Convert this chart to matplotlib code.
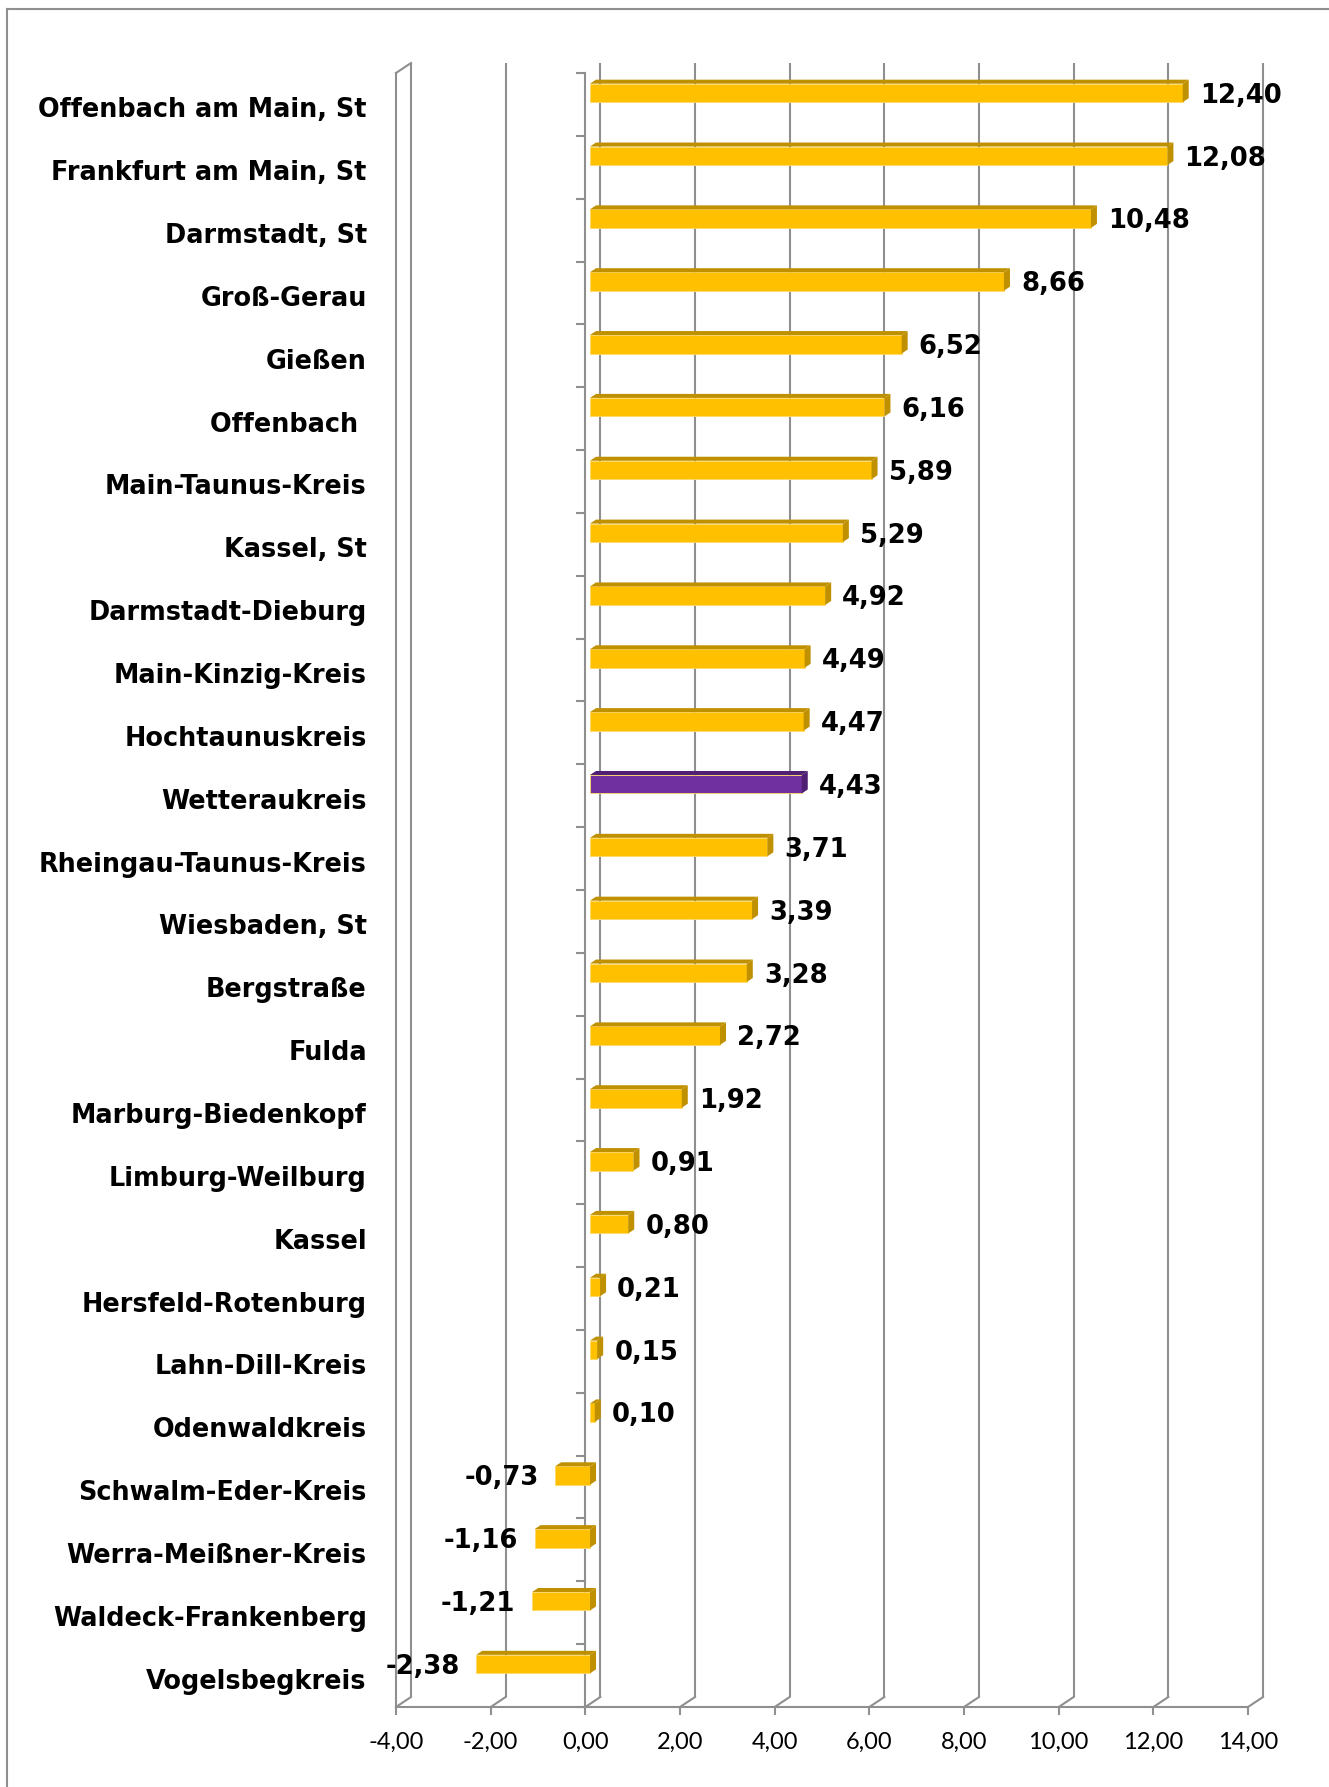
import numpy as np
import matplotlib
matplotlib.use("Agg")
import matplotlib.pyplot as plt
from matplotlib.patches import Polygon
from matplotlib.lines import Line2D
from matplotlib.transforms import ScaledTranslation

# -----------------------------
# Data
# -----------------------------
categories = [
    "Offenbach am Main, St", "Frankfurt am Main, St", "Darmstadt, St", "Groß-Gerau",
    "Gießen", "Offenbach ", "Main-Taunus-Kreis", "Kassel, St", "Darmstadt-Dieburg",
    "Main-Kinzig-Kreis", "Hochtaunuskreis", "Wetteraukreis", "Rheingau-Taunus-Kreis",
    "Wiesbaden, St", "Bergstraße", "Fulda", "Marburg-Biedenkopf", "Limburg-Weilburg",
    "Kassel", "Hersfeld-Rotenburg", "Lahn-Dill-Kreis", "Odenwaldkreis",
    "Schwalm-Eder-Kreis", "Werra-Meißner-Kreis", "Waldeck-Frankenberg", "Vogelsbegkreis",
]
values = [12.40, 12.08, 10.48, 8.66, 6.52, 6.16, 5.89, 5.29, 4.92, 4.49, 4.47, 4.43,
          3.71, 3.39, 3.28, 2.72, 1.92, 0.91, 0.80, 0.21, 0.15, 0.10,
          -0.73, -1.16, -1.21, -2.38]
highlight = "Wetteraukreis"
x_ticks = [-4, -2, 0, 2, 4, 6, 8, 10, 12, 14]

# -----------------------------
# Figure / geometry (pixels at dpi 100)
# -----------------------------
W, H = 1329, 1787
fig = plt.figure(figsize=(W / 100, H / 100), dpi=100)

front_left, front_right = 396, 1248
front_top, front_bottom = 73, 1707
n = len(categories)
ux = (front_right - front_left) / (x_ticks[-1] - x_ticks[0])
uy = (front_bottom - front_top) / n

ax = fig.add_axes([front_left / W, 1 - front_bottom / H,
                   (front_right - front_left) / W, (front_bottom - front_top) / H])
ax.set_xlim(x_ticks[0], x_ticks[-1])
ax.set_ylim(n - 0.5, -0.5)

grid_c = "#8f8f8f"
lw = 1.5
gdx, gdy = 15 / ux, 10 / uy
y_top, y_bot = -0.5, n - 0.5

# back gridlines + floor diagonals
for v in x_ticks:
    ax.plot([v + gdx, v + gdx], [y_top - gdy, y_bot - gdy], color=grid_c, lw=lw,
            clip_on=False, zorder=1, solid_capstyle="butt")
    ax.plot([v, v + gdx], [y_bot, y_bot - gdy], color=grid_c, lw=lw, clip_on=False, zorder=1)
# left wall
ax.plot([x_ticks[0], x_ticks[0] + gdx], [y_top, y_top - gdy], color=grid_c, lw=lw,
        clip_on=False, zorder=1)

# category axis at 0 with ticks
ax.plot([0, 0], [y_top, y_bot], color=grid_c, lw=lw, clip_on=False, zorder=1)
for k in range(n + 1):
    ax.plot([-8 / ux, 0], [k - 0.5, k - 0.5], color=grid_c, lw=lw, clip_on=False, zorder=1)

# spines: bottom = floor front edge, left = wall front edge
for s in ["top", "right"]:
    ax.spines[s].set_visible(False)
for s in ["bottom", "left"]:
    ax.spines[s].set_color(grid_c)
    ax.spines[s].set_linewidth(lw)
ax.patch.set_alpha(0)

ax.set_xticks(x_ticks)
ax.set_xticklabels([f"{v:.2f}".replace(".", ",") for v in x_ticks],
                   fontsize=17, family="Lato")
ax.tick_params(axis="x", length=6, width=lw, color=grid_c, pad=12)

bold_font = dict(family="DejaVu Sans", fontweight="bold")
ax.set_yticks(range(n))
ax.set_yticklabels(categories, fontsize=18.4, **bold_font)
ax.tick_params(axis="y", length=0, pad=21)
shift = ScaledTranslation(0, -0.03, fig.dpi_scale_trans)
for lab in ax.get_yticklabels():
    lab.set_transform(lab.get_transform() + shift)

# -----------------------------
# Bars (own plane, slightly behind the front)
# -----------------------------
bx = 47.8
bar_zero = 590
axb = fig.add_axes([(bar_zero + x_ticks[0] * bx) / W, 1 - front_bottom / H,
                    (x_ticks[-1] - x_ticks[0]) * bx / W, (front_bottom - front_top) / H])
axb.set_xlim(x_ticks[0], x_ticks[-1])
axb.set_ylim(n - 0.5, -0.5)
axb.axis("off")

bh = 18.5 / uy
boff = 11.5 / uy
ddx, ddy = 6 / bx, 4 / uy

for i, (cat, v) in enumerate(zip(categories, values)):
    if cat == highlight:
        fc, dc = "#7030A0", "#4E1F72"
    else:
        fc, dc = "#FFC000", "#BF9000"
    yc = i - boff
    axb.barh(yc, v, height=bh, left=0, color=fc, edgecolor="#FFD966", linewidth=0.6, zorder=3)
    x0, x1 = min(0, v), max(0, v)
    yt, yb = yc - bh / 2, yc + bh / 2
    axb.add_patch(Polygon([(x0, yt), (x1, yt), (x1 + ddx, yt - ddy), (x0 + ddx, yt - ddy)],
                          closed=True, facecolor=dc, edgecolor="none", zorder=3))
    axb.add_patch(Polygon([(x1, yt), (x1, yb), (x1 + ddx, yb - ddy), (x1 + ddx, yt - ddy)],
                          closed=True, facecolor=dc, edgecolor="none", zorder=3))
    label = f"{v:.2f}".replace(".", ",")
    if v >= 0:
        axb.annotate(label, xy=(x1 + ddx, yc), xytext=(8, -2), textcoords="offset points",
                     ha="left", va="center", fontsize=18.6, annotation_clip=False,
                     **bold_font)
    else:
        axb.annotate(label, xy=(x0, yc), xytext=(-12, -2), textcoords="offset points",
                     ha="right", va="center", fontsize=18.6, annotation_clip=False,
                     **bold_font)

# outer frame (top and left edges visible)
fig.add_artist(Line2D([7 / W, 1], [1 - 9 / H, 1 - 9 / H], color=grid_c, lw=lw))
fig.add_artist(Line2D([7 / W, 7 / W], [0, 1 - 9 / H], color=grid_c, lw=lw))

fig.savefig("out.png", dpi=100)
